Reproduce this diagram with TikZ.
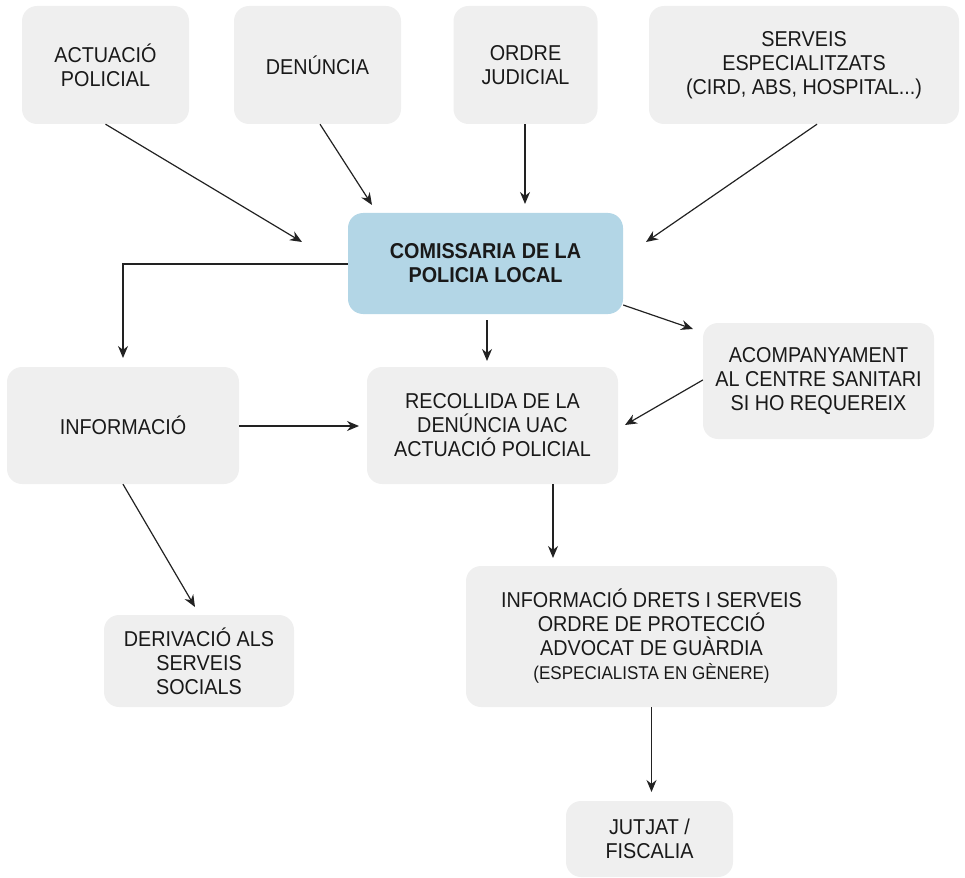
\documentclass[tikz,border=0pt]{standalone}
\usepackage{fontspec}
\setmainfont[FakeStretch=0.92,BoldFeatures={FakeStretch=0.92}]{Liberation Sans}
\usepackage{xcolor}
\usepackage{tikz}
\usetikzlibrary{shapes,arrows.meta,calc,positioning}
\definecolor{boxgrey}{HTML}{EFEFEF}
\definecolor{boxblue}{HTML}{B3D6E6}
\definecolor{linegrey}{HTML}{222222}
\tikzstyle{box} = [rectangle, rounded corners=15pt, fill=boxgrey, align=center, inner sep=0pt, text=black!90, font=\fontsize{21.5}{24}\selectfont]
\tikzstyle{mainbox} = [box, fill=boxblue, font=\fontsize{21.5}{24}\selectfont\bfseries]
\tikzstyle{arrow} = [line width=1.2pt, draw=linegrey, ->, >={Stealth[length=12pt,width=10pt]}]

\begin{document}
\begin{tikzpicture}[x=1pt,y=-1pt]
\useasboundingbox (0,0) rectangle (965,877);
% boxes
\node[box, minimum width=167pt, minimum height=118pt] (act) at (105.5,65) {ACTUACIÓ\\POLICIAL};
\node[box, minimum width=167pt, minimum height=118pt] (den) at (317.5,65) {DENÚNCIA};
\node[box, minimum width=144pt, minimum height=118pt] (ord) at (525.5,65) {ORDRE\\JUDICIAL};
\node[box, minimum width=310pt, minimum height=118pt] (srv) at (804,65) {SERVEIS\\ESPECIALITZATS\\(CIRD, ABS, HOSPITAL...)};
\node[mainbox, minimum width=275pt, minimum height=101pt] (com) at (485.5,263.5) {COMISSARIA DE LA\\POLICIA LOCAL};
\node[box, minimum width=231pt, minimum height=116pt] (aco) at (818.5,381) {ACOMPANYAMENT\\AL CENTRE SANITARI\\SI HO REQUEREIX};
\node[box, minimum width=232pt, minimum height=117pt] (inf) at (123,425.5) {INFORMACIÓ};
\node[box, minimum width=251pt, minimum height=117pt] (rec) at (492.5,425.5) {RECOLLIDA DE LA\\DENÚNCIA UAC\\ACTUACIÓ POLICIAL};
\node[box, minimum width=190pt, minimum height=92pt] (der) at (199,661) {DERIVACIÓ ALS\\SERVEIS\\SOCIALS};
\node[box, minimum width=371pt, minimum height=141pt] (idr) at (651.5,636.5) {INFORMACIÓ DRETS I SERVEIS\\ORDRE DE PROTECCIÓ\\ADVOCAT DE GUÀRDIA\\{\fontsize{18.5}{21}\selectfont (ESPECIALISTA EN GÈNERE)}};
\node[box, minimum width=167pt, minimum height=76pt] (jut) at (649.5,839) {JUTJAT /\\FISCALIA};

% arrow tips
\coordinate (tact) at (302,242);
\coordinate (tden) at (372,205);
\coordinate (tord) at (525,204);
\coordinate (tsrv) at (646,242);
\coordinate (tinf) at (123,358);
\coordinate (trec) at (487,361);
\coordinate (taco) at (693,329);
\coordinate (tarec) at (625,425);
\coordinate (tirec) at (359,426);
\coordinate (tder) at (195,607);
\coordinate (tidr) at (553,558);
\coordinate (tjut) at (651.5,792);

% connectors
\draw[arrow] (act.south) -- (tact);
\draw[arrow] (den.south -| 320,0) -- (tden);
\draw[arrow] (ord.south -| tord) -- (tord);
\draw[arrow] (srv.south -| 817,0) -- (tsrv);
\draw[arrow] (com.west |- 0,264) -| (tinf);
\draw[arrow] ($(com.south -| trec)+(0,6)$) -- (trec);
\draw[arrow] (com.east |- 0,305) -- (taco);
\draw[arrow] (aco.west |- 0,380) -- (tarec);
\draw[arrow] (inf.east |- tirec) -- (tirec);
\draw[arrow] (inf.south) -- (tder);
\draw[arrow] (rec.south -| tidr) -- (tidr);
\draw[arrow] (idr.south -| tjut) -- (tjut);
\end{tikzpicture}
\end{document}
